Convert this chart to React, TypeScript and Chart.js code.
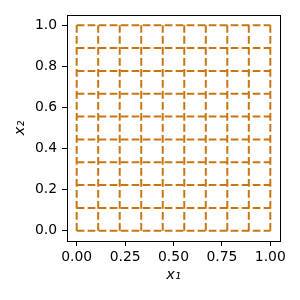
import { useEffect, useRef } from "react";
import { Chart, registerables } from "chart.js";

Chart.register(...registerables);

const gridValues = [0, 0.1111, 0.2222, 0.3333, 0.4444, 0.5556, 0.6667, 0.7778, 0.8889, 1];
const lineStart = 0;
const lineEnd = 1;
const xTicks = [0, 0.25, 0.5, 0.75, 1];
const yTicks = [0, 0.2, 0.4, 0.6, 0.8, 1];
const xLabel = "x₁";
const yLabel = "x₂";
const axisMin = -0.05;
const axisMax = 1.05;

const LINE_COLOR = "#c87614";
const FONT = "'DejaVu Sans', sans-serif";

const framePlugin = {
  id: "frame",
  afterDatasetsDraw(chart: any) {
    const { ctx, chartArea } = chart;
    ctx.save();
    ctx.strokeStyle = "#000";
    ctx.lineWidth = 1;
    ctx.strokeRect(
      Math.round(chartArea.left) + 0.5,
      Math.round(chartArea.top) + 0.5,
      Math.round(chartArea.right - chartArea.left),
      Math.round(chartArea.bottom - chartArea.top)
    );
    ctx.restore();
  },
};

export default function App() {
  const ref = useRef<HTMLCanvasElement | null>(null);

  useEffect(() => {
    if (!ref.current) return;
    const datasets: any[] = [];
    gridValues.forEach((v) => {
      datasets.push({
        data: [
          { x: v, y: lineStart },
          { x: v, y: lineEnd },
        ],
      });
    });
    gridValues.forEach((v) => {
      datasets.push({
        data: [
          { x: lineStart, y: v },
          { x: lineEnd, y: v },
        ],
      });
    });
    datasets.forEach((d) => {
      d.showLine = true;
      d.borderColor = LINE_COLOR;
      d.backgroundColor = LINE_COLOR;
      d.borderWidth = 2;
      d.borderDash = [7.7, 3.3];
      d.pointRadius = 0;
      d.borderCapStyle = "butt";
      d.fill = false;
    });

    const chart = new Chart(ref.current, {
      type: "scatter",
      data: { datasets },
      plugins: [framePlugin],
      options: {
        animation: false,
        responsive: false,
        devicePixelRatio: 1,
        layout: { padding: { left: 0, right: 20, top: 15, bottom: 0 } },
        plugins: { legend: { display: false }, tooltip: { enabled: false } },
        scales: {
          x: {
            type: "linear",
            min: axisMin,
            max: axisMax,
            border: { display: false },
            grid: {
              display: true,
              drawOnChartArea: false,
              drawTicks: true,
              tickLength: 5,
              tickColor: "#000",
              tickWidth: 1,
            },
            afterBuildTicks: (scale: any) => {
              scale.ticks = xTicks.map((v) => ({ value: v }));
            },
            afterFit: (scale: any) => {
              scale.height = 59;
            },
            ticks: {
              color: "#000",
              padding: 3,
              maxRotation: 0,
              autoSkip: false,
              font: { family: FONT, size: 13.9 },
              callback: (v: any) => Number(v).toFixed(2),
            },
            title: {
              display: true,
              text: xLabel,
              color: "#000",
              padding: { top: 0, bottom: 16 },
              font: { family: FONT, size: 14.5, style: "italic" },
            },
          },
          y: {
            type: "linear",
            min: axisMin,
            max: axisMax,
            border: { display: false },
            grid: {
              display: true,
              drawOnChartArea: false,
              drawTicks: true,
              tickLength: 5,
              tickColor: "#000",
              tickWidth: 1,
            },
            afterBuildTicks: (scale: any) => {
              scale.ticks = yTicks.map((v) => ({ value: v }));
            },
            afterFit: (scale: any) => {
              scale.width = 67;
            },
            ticks: {
              color: "#000",
              padding: 5,
              autoSkip: false,
              font: { family: FONT, size: 13.9 },
              callback: (v: any) => Number(v).toFixed(1),
            },
            title: {
              display: true,
              text: yLabel,
              color: "#000",
              padding: { top: 12, bottom: 0 },
              font: { family: FONT, size: 14.5, style: "italic" },
            },
          },
        },
      },
    });
    return () => chart.destroy();
  }, []);

  return (
    <div style={{ position: "fixed", left: 0, top: 0, width: 300, height: 300, background: "#fff" }}>
      <canvas ref={ref} width={300} height={300} style={{ width: 300, height: 300, display: "block" }} />
    </div>
  );
}
